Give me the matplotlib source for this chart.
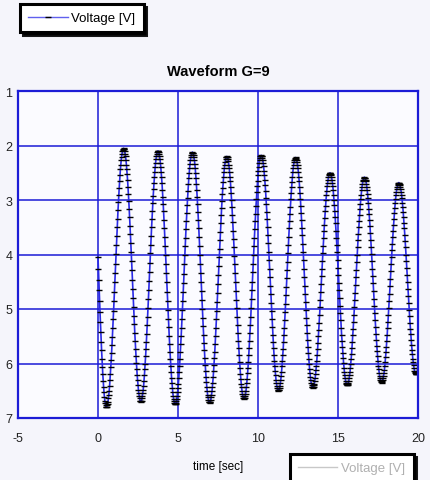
import numpy as np
import matplotlib.pyplot as plt
from matplotlib.lines import Line2D

# sample step of the record [sec]
dt = 0.025

# voltage samples (plotted on an inverted axis)
voltage = [
    4.05, 4.26, 4.46, 4.66, 4.86, 5.05, 5.24, 5.43, 5.60, 5.76, 5.92, 6.07, 6.20, 6.32, 6.43, 6.53,
    6.61, 6.68, 6.73, 6.77, 6.79, 6.80,
    6.79, 6.77, 6.74, 6.70, 6.64, 6.58, 6.50, 6.41, 6.30, 6.19, 6.07, 5.94, 5.81, 5.66, 5.51, 5.35,
    5.19, 5.03, 4.86, 4.68, 4.51, 4.34, 4.17, 3.99, 3.82, 3.66, 3.50, 3.34, 3.19, 3.04, 2.91, 2.78,
    2.66, 2.55, 2.44, 2.35, 2.27, 2.21, 2.15, 2.11, 2.08, 2.06, 2.05,
    2.06, 2.07, 2.11, 2.15, 2.20, 2.27, 2.35, 2.44, 2.53, 2.64, 2.76, 2.89, 3.02, 3.16, 3.31, 3.47,
    3.62, 3.79, 3.95, 4.12, 4.29, 4.46, 4.63, 4.80, 4.96, 5.13, 5.28, 5.44, 5.59, 5.73, 5.86, 5.99,
    6.11, 6.22, 6.31, 6.40, 6.48, 6.55, 6.60, 6.64, 6.68, 6.69, 6.70,
    6.69, 6.68, 6.64, 6.60, 6.55, 6.48, 6.41, 6.32, 6.22, 6.11, 6.00, 5.87, 5.74, 5.60, 5.45, 5.30,
    5.14, 4.98, 4.82, 4.65, 4.48, 4.32, 4.15, 3.98, 3.82, 3.66, 3.50, 3.35, 3.20, 3.06, 2.93, 2.80,
    2.69, 2.58, 2.48, 2.39, 2.32, 2.25, 2.20, 2.15, 2.12, 2.11, 2.10,
    2.11, 2.12, 2.16, 2.20, 2.25, 2.32, 2.40, 2.49, 2.58, 2.69, 2.81, 2.94, 3.07, 3.21, 3.36, 3.52,
    3.67, 3.84, 4.00, 4.17, 4.34, 4.51, 4.68, 4.85, 5.01, 5.18, 5.33, 5.49, 5.64, 5.78, 5.91, 6.04,
    6.16, 6.27, 6.36, 6.45, 6.53, 6.60, 6.65, 6.69, 6.73, 6.74, 6.75,
    6.74, 6.73, 6.69, 6.65, 6.60, 6.53, 6.45, 6.37, 6.27, 6.16, 6.04, 5.91, 5.78, 5.64, 5.49, 5.34,
    5.18, 5.02, 4.86, 4.69, 4.52, 4.35, 4.18, 4.01, 3.85, 3.69, 3.53, 3.38, 3.23, 3.09, 2.96, 2.83,
    2.71, 2.60, 2.50, 2.42, 2.34, 2.27, 2.22, 2.18, 2.14, 2.13, 2.12,
    2.13, 2.14, 2.18, 2.22, 2.27, 2.34, 2.41, 2.50, 2.60, 2.71, 2.82, 2.95, 3.08, 3.22, 3.37, 3.52,
    3.68, 3.84, 4.00, 4.17, 4.34, 4.50, 4.67, 4.84, 5.00, 5.16, 5.32, 5.47, 5.62, 5.76, 5.89, 6.02,
    6.13, 6.24, 6.34, 6.43, 6.50, 6.57, 6.62, 6.67, 6.70, 6.71, 6.72,
    6.71, 6.70, 6.67, 6.62, 6.57, 6.51, 6.43, 6.35, 6.25, 6.14, 6.03, 5.90, 5.78, 5.64, 5.49, 5.34,
    5.19, 5.03, 4.87, 4.71, 4.54, 4.38, 4.21, 4.05, 3.89, 3.73, 3.58, 3.43, 3.28, 3.15, 3.02, 2.89,
    2.78, 2.67, 2.58, 2.49, 2.41, 2.35, 2.30, 2.25, 2.22, 2.21, 2.20,
    2.21, 2.22, 2.25, 2.29, 2.35, 2.41, 2.49, 2.57, 2.66, 2.77, 2.88, 3.00, 3.13, 3.27, 3.41, 3.56,
    3.71, 3.86, 4.02, 4.18, 4.34, 4.51, 4.67, 4.83, 4.99, 5.14, 5.30, 5.44, 5.58, 5.72, 5.85, 5.97,
    6.08, 6.19, 6.28, 6.37, 6.44, 6.50, 6.56, 6.60, 6.63, 6.64, 6.65,
    6.64, 6.63, 6.60, 6.56, 6.50, 6.44, 6.36, 6.28, 6.18, 6.08, 5.97, 5.84, 5.72, 5.58, 5.44, 5.29,
    5.14, 4.98, 4.82, 4.66, 4.50, 4.33, 4.17, 4.01, 3.85, 3.69, 3.54, 3.39, 3.25, 3.11, 2.99, 2.86,
    2.75, 2.65, 2.55, 2.47, 2.39, 2.33, 2.27, 2.23, 2.20, 2.19, 2.18,
    2.19, 2.20, 2.23, 2.27, 2.32, 2.38, 2.46, 2.54, 2.63, 2.73, 2.84, 2.96, 3.08, 3.22, 3.35, 3.50,
    3.64, 3.79, 3.95, 4.10, 4.26, 4.42, 4.58, 4.73, 4.89, 5.04, 5.19, 5.33, 5.47, 5.60, 5.72, 5.84,
    5.95, 6.05, 6.14, 6.22, 6.30, 6.36, 6.41, 6.45, 6.48, 6.49, 6.50,
    6.49, 6.48, 6.45, 6.41, 6.36, 6.30, 6.23, 6.15, 6.05, 5.95, 5.84, 5.73, 5.61, 5.47, 5.34, 5.20,
    5.05, 4.90, 4.75, 4.59, 4.44, 4.28, 4.13, 3.97, 3.82, 3.67, 3.52, 3.38, 3.25, 3.12, 2.99, 2.88,
    2.77, 2.67, 2.58, 2.49, 2.42, 2.36, 2.31, 2.27, 2.24, 2.23, 2.22,
    2.23, 2.24, 2.27, 2.31, 2.36, 2.42, 2.49, 2.57, 2.66, 2.76, 2.87, 2.98, 3.11, 3.23, 3.37, 3.51,
    3.65, 3.80, 3.95, 4.10, 4.26, 4.41, 4.57, 4.72, 4.87, 5.02, 5.16, 5.30, 5.44, 5.57, 5.69, 5.80,
    5.91, 6.01, 6.10, 6.18, 6.25, 6.31, 6.36, 6.40, 6.43, 6.44, 6.45,
    6.44, 6.43, 6.40, 6.37, 6.32, 6.26, 6.20, 6.12, 6.04, 5.95, 5.85, 5.74, 5.62, 5.50, 5.38, 5.25,
    5.11, 4.97, 4.83, 4.69, 4.55, 4.40, 4.26, 4.12, 3.98, 3.84, 3.70, 3.57, 3.45, 3.33, 3.21, 3.11,
    3.00, 2.91, 2.83, 2.75, 2.69, 2.63, 2.58, 2.55, 2.52, 2.51, 2.50,
    2.51, 2.52, 2.55, 2.58, 2.63, 2.68, 2.75, 2.82, 2.91, 3.00, 3.10, 3.20, 3.32, 3.43, 3.56, 3.69,
    3.82, 3.96, 4.10, 4.24, 4.38, 4.52, 4.66, 4.80, 4.94, 5.08, 5.21, 5.34, 5.47, 5.58, 5.70, 5.80,
    5.90, 5.99, 6.08, 6.15, 6.22, 6.27, 6.32, 6.35, 6.38, 6.39, 6.40,
    6.39, 6.38, 6.35, 6.32, 6.27, 6.22, 6.16, 6.08, 6.00, 5.91, 5.82, 5.71, 5.60, 5.48, 5.36, 5.24,
    5.11, 4.97, 4.84, 4.70, 4.56, 4.42, 4.28, 4.14, 4.01, 3.87, 3.74, 3.62, 3.50, 3.38, 3.27, 3.17,
    3.07, 2.98, 2.90, 2.82, 2.76, 2.71, 2.66, 2.63, 2.60, 2.59, 2.58,
    2.59, 2.60, 2.63, 2.66, 2.70, 2.76, 2.82, 2.89, 2.97, 3.06, 3.16, 3.26, 3.37, 3.48, 3.60, 3.73,
    3.86, 3.99, 4.12, 4.26, 4.40, 4.53, 4.67, 4.81, 4.94, 5.07, 5.20, 5.33, 5.45, 5.56, 5.67, 5.77,
    5.87, 5.96, 6.04, 6.11, 6.17, 6.23, 6.27, 6.31, 6.33, 6.34, 6.35,
    6.34, 6.33, 6.31, 6.27, 6.23, 6.18, 6.12, 6.05, 5.97, 5.88, 5.79, 5.69, 5.58, 5.47, 5.35, 5.23,
    5.11, 4.98, 4.85, 4.72, 4.58, 4.45, 4.31, 4.18, 4.05, 3.92, 3.80, 3.68, 3.56, 3.45, 3.34, 3.24,
    3.15, 3.06, 2.98, 2.91, 2.85, 2.80, 2.76, 2.72, 2.70, 2.69, 2.68,
    2.69, 2.70, 2.72, 2.76, 2.80, 2.85, 2.90, 2.97, 3.05, 3.13, 3.22, 3.32, 3.42, 3.52, 3.64, 3.75,
    3.87, 4.00, 4.12, 4.25, 4.38, 4.50, 4.63, 4.76, 4.89, 5.01, 5.13, 5.25, 5.36, 5.46, 5.57, 5.66,
    5.75, 5.83, 5.91, 5.97, 6.03, 6.08, 6.13, 6.16, 6.18, 6.20, 6.20,
    6.20, 6.18, 6.16, 6.13, 6.08,
]

x_ticks = [-5, 0, 5, 10, 15, 20]
y_ticks = [1, 2, 3, 4, 5, 6, 7]
series_label = 'Voltage [V]'

t = np.arange(len(voltage)) * dt

plt.rcParams['font.family'] = ['Liberation Sans', 'DejaVu Sans']
plt.rcParams['axes.unicode_minus'] = False

blue = '#1c1cd6'

fig = plt.figure(figsize=(4.31, 4.81), dpi=100, facecolor='#f5f5fb')
ax = fig.add_axes([18 / 431, 1 - 419 / 481, 400 / 431, 327 / 481])
ax.set_facecolor('#fbfbff')

ax.plot(t, voltage, color='#2a2ae6', lw=1.2, marker='_', ms=4.5, mec='black', mew=1.0)

ax.set_xlim(-5, 20)
ax.set_ylim(7, 1)
ax.set_xticks(x_ticks)
ax.set_yticks(y_ticks)
ax.grid(True, color=blue, lw=1.3, alpha=0.85)
ax.set_axisbelow(True)
for s in ax.spines.values():
    s.set_color(blue)
    s.set_linewidth(1.6)
ax.tick_params(axis='both', length=0, labelsize=9, colors='#222222')
ax.tick_params(axis='y', pad=4)
ax.tick_params(axis='x', pad=10)

fig.text(218 / 431, 1 - 72 / 481, 'Waveform G=9', ha='center', va='center',
         fontsize=10.5, fontweight='bold')
fig.text(218 / 431, 1 - 467 / 481, 'time [sec]', ha='center', va='center', fontsize=8.5)

# legend in the top-left corner
h1 = Line2D([], [], color='#6060ee', lw=1.0, marker='_', ms=4, mec='black', mew=1.0)
leg1 = fig.legend(handles=[h1], labels=[series_label], loc='upper left',
                  bbox_to_anchor=(20 / 431, 1 - 5 / 481), borderaxespad=0,
                  fancybox=False, shadow={'color': 'black', 'alpha': 0.9},
                  edgecolor='black', facecolor='white', framealpha=1,
                  fontsize=9.5, handlelength=3.0, handletextpad=0.3,
                  borderpad=0.6, numpoints=1)
leg1.get_frame().set_linewidth(2.2)

# faded legend at the bottom, partly cut off
h2 = Line2D([], [], color='#c8c8c8', lw=1.0)
leg2 = fig.legend(handles=[h2], labels=[series_label], loc='upper left',
                  bbox_to_anchor=(290 / 431, 1 - 455 / 481), borderaxespad=0,
                  fancybox=False, shadow={'color': 'black', 'alpha': 0.9},
                  edgecolor='black', facecolor='white', framealpha=1,
                  fontsize=9.5, handlelength=3.0, handletextpad=0.3,
                  borderpad=0.6, numpoints=1, labelcolor='#b0b0b0')
leg2.get_frame().set_linewidth(2.2)

fig.savefig('out.png', dpi=100, facecolor=fig.get_facecolor())
